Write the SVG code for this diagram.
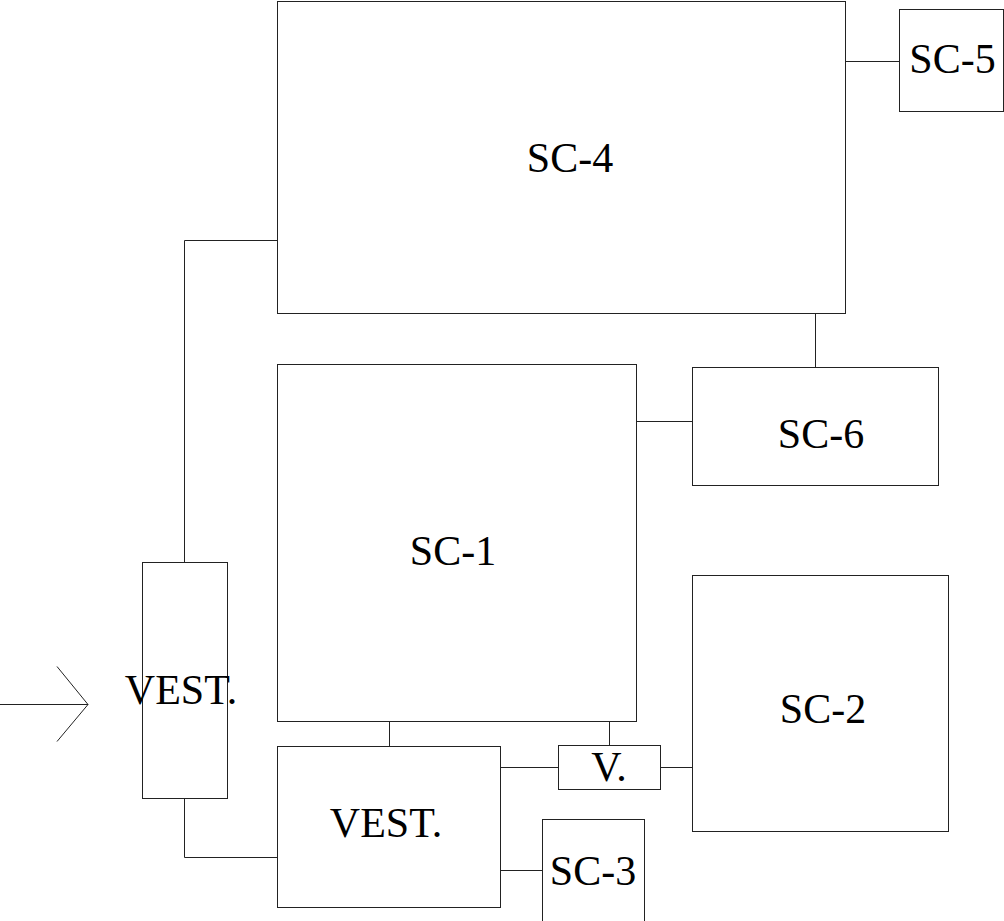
<svg xmlns="http://www.w3.org/2000/svg" width="1004" height="921" viewBox="0 0 1004 921">
<style>
.box{fill:#fff;stroke:#222;stroke-width:1}
.ln{fill:none;stroke:#222;stroke-width:1}
.lbl{font-family:"Liberation Serif","Times New Roman",serif;font-size:42px;fill:#000;text-anchor:middle}
</style>
<rect width="1004" height="921" fill="#fff"/>
<g id="connectors">
<line class="ln" x1="845.5" y1="61.5" x2="899.5" y2="61.5"/>
<line class="ln" x1="815.5" y1="313.5" x2="815.5" y2="367.5"/>
<line class="ln" x1="636.5" y1="421.5" x2="692.5" y2="421.5"/>
<polyline class="ln" points="184.5,562.5 184.5,240.5 277.5,240.5"/>
<polyline class="ln" points="184.5,798.5 184.5,857.5 277.5,857.5"/>
<line class="ln" x1="389.5" y1="721.5" x2="389.5" y2="746.5"/>
<line class="ln" x1="609.5" y1="721.5" x2="609.5" y2="745.5"/>
<line class="ln" x1="500.5" y1="767.5" x2="558.5" y2="767.5"/>
<line class="ln" x1="660.5" y1="767.5" x2="692.5" y2="767.5"/>
<line class="ln" x1="500.5" y1="870.5" x2="542.5" y2="870.5"/>
<line class="ln" x1="0" y1="704.5" x2="88" y2="704.5"/>
<polyline class="ln" points="57,666.5 88,704.5 57,741.5"/>
</g>
<g id="nodes">
<g id="sc4"><rect class="box" x="277.5" y="1.5" width="568" height="312"/><text class="lbl" x="570" y="172">SC-4</text></g>
<g id="sc5"><rect class="box" x="899.5" y="9.5" width="104" height="102"/><text class="lbl" x="952.5" y="73">SC-5</text></g>
<g id="sc1"><rect class="box" x="277.5" y="364.5" width="359" height="357"/><text class="lbl" x="453" y="565">SC-1</text></g>
<g id="sc6"><rect class="box" x="692.5" y="367.5" width="246" height="118"/><text class="lbl" x="821" y="448">SC-6</text></g>
<g id="sc2"><rect class="box" x="692.5" y="575.5" width="256" height="256"/><text class="lbl" x="823" y="723">SC-2</text></g>
<g id="vest1"><rect class="box" x="142.5" y="562.5" width="85" height="236"/><text class="lbl" x="181" y="704">VEST.</text></g>
<g id="vest2"><rect class="box" x="277.5" y="746.5" width="223" height="161"/><text class="lbl" x="386" y="837">VEST.</text></g>
<g id="v"><rect class="box" x="558.5" y="745.5" width="102" height="44"/><text class="lbl" x="609" y="781">V.</text></g>
<g id="sc3"><rect class="box" x="542.5" y="819.5" width="102" height="110"/><text class="lbl" x="593" y="885">SC-3</text></g>
</g>
</svg>
